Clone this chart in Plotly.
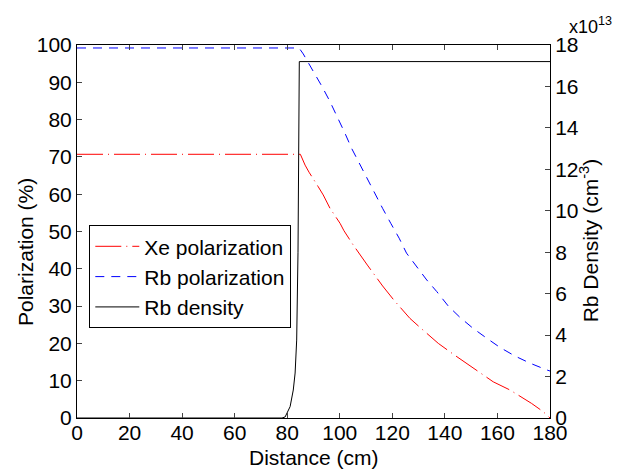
import plotly.graph_objects as go

# Xe polarization (%)
xe_x = [0, 85.0, 86.8, 88.3, 91.8, 93.7, 96.3, 100.1, 101.6, 105.1, 110.5, 114.6,
        116.3, 120.6, 126.7, 130.5, 137.5, 143.2, 150.8, 158.4, 164.8, 167.3,
        173.0, 177.4, 180]
xe_y = [70.7, 70.7, 67.8, 65.9, 62.0, 59.8, 56.2, 52.2, 50.2, 46.4, 41.0, 37.0,
        35.4, 31.6, 26.7, 24.3, 20.0, 17.1, 13.3, 9.7, 7.5, 6.4, 3.9, 1.7, 0]

# Rb polarization (%)
rb_x = [0, 84.5, 86.1, 89.7, 93.3, 96.3, 99.4, 102.0, 104.5, 107.4, 110.5, 113.4,
        116.3, 119.4, 122.6, 125.4, 129.3, 133.1, 136.9, 141.3, 145.7, 150.8,
        155.9, 161.0, 166.7, 172.4, 178.7, 180]
rb_y = [99.2, 99.2, 97.6, 93.3, 88.8, 84.8, 80.3, 76.3, 72.3, 68.3, 64.3, 60.2,
        56.2, 52.2, 48.2, 44.2, 40.6, 37.0, 33.9, 30.0, 27.0, 24.0, 21.4, 18.9,
        16.6, 14.7, 12.9, 12.6]

# Rb density (x10^13 cm^-3)
dens_x = [0, 78.0, 79.2, 81.1, 82.3, 83.0, 83.6, 84.1, 84.6, 180]
dens_y = [0, 0, 0.05, 0.55, 1.35, 2.17, 3.76, 8.0, 17.2, 17.2]

font = "Liberation Sans, Arial, sans-serif"
fs = 21

fig = go.Figure()

fig.add_trace(go.Scatter(
    x=xe_x, y=xe_y, mode="lines", name="Xe polarization",
    line=dict(color="#ff0000", width=1, dash="26px,5px,1px,5px")
))
fig.add_trace(go.Scatter(
    x=rb_x, y=rb_y, mode="lines", name="Rb polarization",
    line=dict(color="#0000ff", width=1, dash="9px,7px")
))
fig.add_trace(go.Scatter(
    x=dens_x, y=dens_y, mode="lines", name="Rb density", yaxis="y2",
    line=dict(color="black", width=1)
))

axis_common = dict(
    ticks="inside", ticklen=5, showline=True, linecolor="black",
    linewidth=1, showgrid=False, zeroline=False,
    tickfont=dict(size=fs),
)

fig.update_layout(
    width=613, height=462,
    margin=dict(l=69, r=71, t=37, b=52),
    paper_bgcolor="white", plot_bgcolor="white",
    font=dict(family=font, size=fs, color="black"),
    showlegend=True,
    legend=dict(
        x=0.026, y=0.517, xanchor="left", yanchor="top",
        bordercolor="black", borderwidth=1, bgcolor="white",
        font=dict(size=fs), tracegroupgap=0, itemwidth=44,
    ),
    xaxis=dict(
        range=[0, 180], tickvals=list(range(0, 181, 20)),
        mirror="ticks", ticklabelstandoff=-4, **axis_common,
    ),
    yaxis=dict(
        range=[0, 100], tickvals=list(range(0, 101, 10)),
        **axis_common,
    ),
    yaxis2=dict(
        range=[0, 18], tickvals=list(range(0, 19, 2)),
        overlaying="y", side="right", **axis_common,
    ),
    annotations=[
        dict(text="Distance (cm)", xref="paper", yref="paper",
             x=0.5, y=-0.07, xanchor="center", yanchor="top",
             showarrow=False, font=dict(size=fs)),
        dict(text="Polarization (%)", xref="paper", yref="paper",
             x=-0.11, y=0.445, xanchor="center", yanchor="middle",
             textangle=-90, showarrow=False, font=dict(size=fs)),
        dict(text="Rb Density (cm<sup>-3</sup>)", xref="paper", yref="paper",
             x=1.083, y=0.477, xanchor="center", yanchor="middle",
             textangle=-90, showarrow=False, font=dict(size=fs)),
        dict(text="x10<sup>13</sup>", xref="paper", yref="paper",
             x=1.035, y=1.015, xanchor="left", yanchor="bottom",
             showarrow=False, font=dict(size=18)),
    ],
)

fig.write_html("out.html")
